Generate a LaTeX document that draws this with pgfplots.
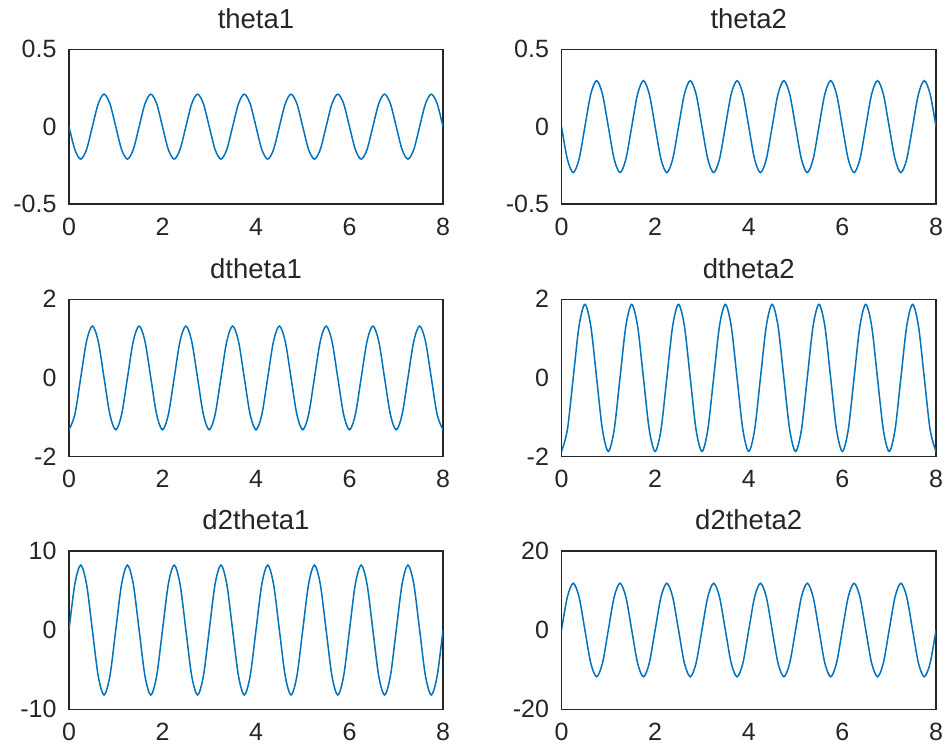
\documentclass[border=0pt]{standalone}
\usepackage{pgfplots}
\pgfplotsset{compat=1.18}
\usepackage{pgfplotstable}
\usepackage{fontspec}
\setmainfont{Liberation Sans}

\definecolor{mlblue}{RGB}{0,114,189}
\definecolor{mlgray}{RGB}{38,38,38}

% time, angles, rates, accelerations (8 samples per period)
\pgfplotstableread{
t     th1    th2    dth1   dth2   ddth1 ddth2
0.000  0.000  0.000 -1.320 -1.870  0.0   0.00
0.125 -0.148 -0.210 -0.933 -1.322  5.8   8.34
0.250 -0.210 -0.297  0.000  0.000  8.2  11.80
0.375 -0.148 -0.210  0.933  1.322  5.8   8.34
0.500  0.000  0.000  1.320  1.870  0.0   0.00
0.625  0.148  0.210  0.933  1.322 -5.8  -8.34
0.750  0.210  0.297  0.000  0.000 -8.2 -11.80
0.875  0.148  0.210 -0.933 -1.322 -5.8  -8.34
1.000  0.000  0.000 -1.320 -1.870  0.0   0.00
1.125 -0.148 -0.210 -0.933 -1.322  5.8   8.34
1.250 -0.210 -0.297  0.000  0.000  8.2  11.80
1.375 -0.148 -0.210  0.933  1.322  5.8   8.34
1.500  0.000  0.000  1.320  1.870  0.0   0.00
1.625  0.148  0.210  0.933  1.322 -5.8  -8.34
1.750  0.210  0.297  0.000  0.000 -8.2 -11.80
1.875  0.148  0.210 -0.933 -1.322 -5.8  -8.34
2.000  0.000  0.000 -1.320 -1.870  0.0   0.00
2.125 -0.148 -0.210 -0.933 -1.322  5.8   8.34
2.250 -0.210 -0.297  0.000  0.000  8.2  11.80
2.375 -0.148 -0.210  0.933  1.322  5.8   8.34
2.500  0.000  0.000  1.320  1.870  0.0   0.00
2.625  0.148  0.210  0.933  1.322 -5.8  -8.34
2.750  0.210  0.297  0.000  0.000 -8.2 -11.80
2.875  0.148  0.210 -0.933 -1.322 -5.8  -8.34
3.000  0.000  0.000 -1.320 -1.870  0.0   0.00
3.125 -0.148 -0.210 -0.933 -1.322  5.8   8.34
3.250 -0.210 -0.297  0.000  0.000  8.2  11.80
3.375 -0.148 -0.210  0.933  1.322  5.8   8.34
3.500  0.000  0.000  1.320  1.870  0.0   0.00
3.625  0.148  0.210  0.933  1.322 -5.8  -8.34
3.750  0.210  0.297  0.000  0.000 -8.2 -11.80
3.875  0.148  0.210 -0.933 -1.322 -5.8  -8.34
4.000  0.000  0.000 -1.320 -1.870  0.0   0.00
4.125 -0.148 -0.210 -0.933 -1.322  5.8   8.34
4.250 -0.210 -0.297  0.000  0.000  8.2  11.80
4.375 -0.148 -0.210  0.933  1.322  5.8   8.34
4.500  0.000  0.000  1.320  1.870  0.0   0.00
4.625  0.148  0.210  0.933  1.322 -5.8  -8.34
4.750  0.210  0.297  0.000  0.000 -8.2 -11.80
4.875  0.148  0.210 -0.933 -1.322 -5.8  -8.34
5.000  0.000  0.000 -1.320 -1.870  0.0   0.00
5.125 -0.148 -0.210 -0.933 -1.322  5.8   8.34
5.250 -0.210 -0.297  0.000  0.000  8.2  11.80
5.375 -0.148 -0.210  0.933  1.322  5.8   8.34
5.500  0.000  0.000  1.320  1.870  0.0   0.00
5.625  0.148  0.210  0.933  1.322 -5.8  -8.34
5.750  0.210  0.297  0.000  0.000 -8.2 -11.80
5.875  0.148  0.210 -0.933 -1.322 -5.8  -8.34
6.000  0.000  0.000 -1.320 -1.870  0.0   0.00
6.125 -0.148 -0.210 -0.933 -1.322  5.8   8.34
6.250 -0.210 -0.297  0.000  0.000  8.2  11.80
6.375 -0.148 -0.210  0.933  1.322  5.8   8.34
6.500  0.000  0.000  1.320  1.870  0.0   0.00
6.625  0.148  0.210  0.933  1.322 -5.8  -8.34
6.750  0.210  0.297  0.000  0.000 -8.2 -11.80
6.875  0.148  0.210 -0.933 -1.322 -5.8  -8.34
7.000  0.000  0.000 -1.320 -1.870  0.0   0.00
7.125 -0.148 -0.210 -0.933 -1.322  5.8   8.34
7.250 -0.210 -0.297  0.000  0.000  8.2  11.80
7.375 -0.148 -0.210  0.933  1.322  5.8   8.34
7.500  0.000  0.000  1.320  1.870  0.0   0.00
7.625  0.148  0.210  0.933  1.322 -5.8  -8.34
7.750  0.210  0.297  0.000  0.000 -8.2 -11.80
7.875  0.148  0.210 -0.933 -1.322 -5.8  -8.34
8.000  0.000  0.000 -1.320 -1.870  0.0   0.00
}\simdata

\pgfplotsset{
  sub/.style={
    scale only axis,
    anchor=north west,
    xmin=0, xmax=8,
    xtick={0,2,4,6,8}, xticklabels={0,2,4,6,8},
    axis line style={draw=mlgray, line width=0.6pt},
    tick style={draw=none},
    every tick label/.append style={font=\fontsize{10}{12}\selectfont, text=mlgray},
    xticklabel style={yshift=-2pt},
    yticklabel style={xshift=-1.5pt},
    title style={font=\fontsize{11}{13}\selectfont, text=mlgray, yshift=-1.2pt},
  },
  curve/.style={mlblue, line width=0.6pt, smooth, no markers},
}

\begin{document}
\begin{tikzpicture}
  % row 1
  \begin{axis}[sub, at={(27.6pt,-19.7pt)}, width=149.6pt, height=61.9pt,
      ymin=-0.5, ymax=0.5, ytick={-0.5,0,0.5}, yticklabels={-0.5,0,0.5},
      title={theta1}]
    \addplot[curve] table[x=t, y=th1] {\simdata};
  \end{axis}
  \begin{axis}[sub, at={(224.6pt,-19.7pt)}, width=149.8pt, height=61.9pt,
      ymin=-0.5, ymax=0.5, ytick={-0.5,0,0.5}, yticklabels={-0.5,0,0.5},
      title={theta2}]
    \addplot[curve] table[x=t, y=th2] {\simdata};
  \end{axis}
  % row 2
  \begin{axis}[sub, at={(27.6pt,-119.7pt)}, width=149.6pt, height=62.9pt,
      ymin=-2, ymax=2, ytick={-2,0,2}, yticklabels={-2,0,2},
      title={dtheta1}]
    \addplot[curve] table[x=t, y=dth1] {\simdata};
  \end{axis}
  \begin{axis}[sub, at={(224.6pt,-119.7pt)}, width=149.8pt, height=62.9pt,
      ymin=-2, ymax=2, ytick={-2,0,2}, yticklabels={-2,0,2},
      title={dtheta2}]
    \addplot[curve] table[x=t, y=dth2] {\simdata};
  \end{axis}
  % row 3
  \begin{axis}[sub, at={(27.6pt,-220.3pt)}, width=149.6pt, height=63.4pt,
      ymin=-10, ymax=10, ytick={-10,0,10}, yticklabels={-10,0,10},
      title={d2theta1}]
    \addplot[curve] table[x=t, y=ddth1] {\simdata};
  \end{axis}
  \begin{axis}[sub, at={(224.6pt,-220.3pt)}, width=149.8pt, height=63.4pt,
      ymin=-20, ymax=20, ytick={-20,0,20}, yticklabels={-20,0,20},
      title={d2theta2}]
    \addplot[curve] table[x=t, y=ddth2] {\simdata};
  \end{axis}
  \pgfresetboundingbox
  \useasboundingbox (0,0) rectangle (379.2pt,-300.8pt);
\end{tikzpicture}
\end{document}
